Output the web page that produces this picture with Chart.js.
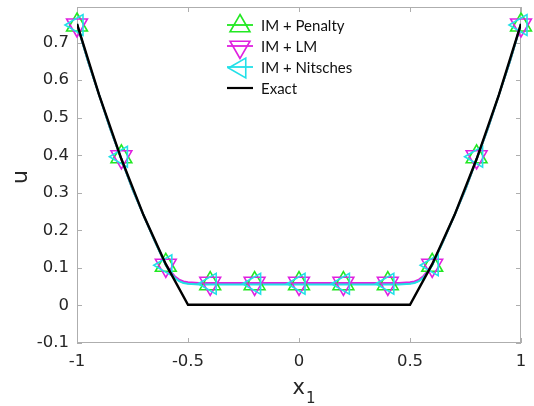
<!DOCTYPE html>
<html><head><meta charset="utf-8">
<script src="https://cdn.jsdelivr.net/npm/chart.js@4.4.1/dist/chart.umd.min.js"></script>
<style>html,body{margin:0;padding:0;background:#fff}</style>
</head><body>
<canvas id="c" width="534" height="406" style="width:534px;height:406px;display:block"></canvas>
<script>
// ---- data ----
const xTicks = [-1, -0.5, 0, 0.5, 1];
const yTicks = [-0.1, 0, 0.1, 0.2, 0.3, 0.4, 0.5, 0.6, 0.7];

const markerX = [-1, -0.8, -0.6, -0.4, -0.2, 0, 0.2, 0.4, 0.6, 0.8, 1];
const penaltyMarkers = [0.747, 0.396, 0.107, 0.058, 0.058, 0.058, 0.058, 0.058, 0.107, 0.396, 0.747];
const lmMarkers      = [0.747, 0.396, 0.107, 0.059, 0.059, 0.059, 0.059, 0.059, 0.107, 0.396, 0.747];
const nitscheMarkers = [0.747, 0.396, 0.107, 0.058, 0.058, 0.058, 0.058, 0.058, 0.107, 0.396, 0.747];

const curveX = [-1, -0.95, -0.9, -0.85, -0.8, -0.75, -0.7, -0.65, -0.6, -0.58, -0.56, -0.54, -0.52, -0.5, -0.45, -0.4, -0.3, -0.2, -0.1, 0,
                0.1, 0.2, 0.3, 0.4, 0.45, 0.5, 0.52, 0.54, 0.56, 0.58, 0.6, 0.65, 0.7, 0.75, 0.8, 0.85, 0.9, 0.95, 1];
const penaltyCurve = [0.75, 0.65, 0.56, 0.47, 0.39, 0.31, 0.24, 0.172, 0.108, 0.089, 0.075, 0.066, 0.061, 0.059, 0.057, 0.057, 0.057, 0.057, 0.057, 0.057,
                      0.057, 0.057, 0.057, 0.057, 0.057, 0.059, 0.061, 0.066, 0.075, 0.089, 0.108, 0.172, 0.24, 0.31, 0.39, 0.47, 0.56, 0.65, 0.75];
const lmCurve      = [0.75, 0.65, 0.56, 0.47, 0.39, 0.31, 0.24, 0.172, 0.110, 0.092, 0.078, 0.069, 0.064, 0.062, 0.060, 0.060, 0.060, 0.060, 0.060, 0.060,
                      0.060, 0.060, 0.060, 0.060, 0.060, 0.062, 0.064, 0.069, 0.078, 0.092, 0.110, 0.172, 0.24, 0.31, 0.39, 0.47, 0.56, 0.65, 0.75];
const nitscheCurve = [0.75, 0.65, 0.56, 0.47, 0.39, 0.31, 0.24, 0.172, 0.107, 0.088, 0.074, 0.065, 0.060, 0.058, 0.056, 0.056, 0.056, 0.056, 0.056, 0.056,
                      0.056, 0.056, 0.056, 0.056, 0.056, 0.058, 0.060, 0.065, 0.074, 0.088, 0.107, 0.172, 0.24, 0.31, 0.39, 0.47, 0.56, 0.65, 0.75];

const exactX = [-1, -0.9, -0.8, -0.7, -0.6, -0.5, 0.5, 0.6, 0.7, 0.8, 0.9, 1];
const exactU = [0.75, 0.56, 0.39, 0.24, 0.11, 0.002, 0.002, 0.11, 0.24, 0.39, 0.56, 0.75];

const seriesNames = ['IM + Penalty', 'IM + LM', 'IM + Nitsches', 'Exact'];
const seriesColors = ['#22e822', '#e020e0', '#22e0e8', '#000000'];
const markerRot = [0, 180, 270];
const xTitle = ['x', '1'];   // x with subscript 1
const yTitle = 'u';

// ---- helpers ----
const pts = (xs, ys) => xs.map((x, i) => ({x: x, y: ys[i]}));

function tri(ctx, x, y, r, rotDeg) {
  const a = rotDeg * Math.PI / 180;
  ctx.beginPath();
  for (let k = 0; k < 3; k++) {
    const t = a + k * 2 * Math.PI / 3;
    const px = x + Math.sin(t) * r, py = y - Math.cos(t) * r;
    if (k === 0) ctx.moveTo(px, py); else ctx.lineTo(px, py);
  }
  ctx.closePath();
  ctx.stroke();
}

const frame = {
  id: 'frame',
  beforeDatasetsDraw(chart) {
    const {ctx, chartArea: a, scales} = chart;
    ctx.save();
    ctx.strokeStyle = '#aeaeae';
    ctx.lineWidth = 1;
    ctx.strokeRect(a.left + 0.5, a.top + 0.5, a.right - a.left - 1, a.bottom - a.top - 1);
    ctx.beginPath();
    const tl = 5;
    xTicks.forEach(v => {
      const px = Math.round(scales.x.getPixelForValue(v)) + 0.5;
      ctx.moveTo(px, a.bottom); ctx.lineTo(px, a.bottom - tl);
      ctx.moveTo(px, a.top); ctx.lineTo(px, a.top + tl);
    });
    yTicks.forEach(v => {
      const py = Math.round(scales.y.getPixelForValue(v)) + 0.5;
      ctx.moveTo(a.left, py); ctx.lineTo(a.left + tl, py);
      ctx.moveTo(a.right, py); ctx.lineTo(a.right - tl, py);
    });
    ctx.stroke();
    ctx.restore();
  },
  afterDraw(chart) {
    const {ctx, chartArea: a} = chart;
    ctx.save();
    ctx.fillStyle = '#262626';
    ctx.textBaseline = 'alphabetic';
    // x title
    const cx = (a.left + a.right) / 2;
    ctx.font = '21px "DejaVu Sans"';
    ctx.textAlign = 'left';
    const wx = ctx.measureText(xTitle[0]).width;
    ctx.font = '15px "DejaVu Sans"';
    const w1 = ctx.measureText(xTitle[1]).width;
    const startX = cx + 5 - (wx + w1 + 1) / 2;
    ctx.font = '21px "DejaVu Sans"';
    ctx.fillText(xTitle[0], startX, 394);
    ctx.font = '15px "DejaVu Sans"';
    ctx.fillText(xTitle[1], startX + wx + 1, 402.5);
    // y title
    ctx.translate(27, (a.top + a.bottom) / 2 + 2);
    ctx.rotate(-Math.PI / 2);
    ctx.font = '22px "DejaVu Sans"';
    ctx.textAlign = 'center';
    ctx.fillText(yTitle, 0, 0);
    ctx.restore();
  }
};

const legendPlugin = {
  id: 'insideLegend',
  afterDatasetsDraw(chart) {
    const {ctx, chartArea: a} = chart;
    ctx.save();
    const x0 = a.left + 150, lineLen = 26, tx = a.left + 184;
    const rows = [25, 46, 67, 88];
    ctx.font = '15px Lato';
    ctx.textBaseline = 'middle';
    ctx.textAlign = 'left';
    seriesNames.forEach((name, i) => {
      const y = rows[i];
      ctx.strokeStyle = seriesColors[i];
      ctx.lineWidth = i === 3 ? 2.2 : 1.8;
      ctx.beginPath(); ctx.moveTo(x0, y); ctx.lineTo(x0 + lineLen, y); ctx.stroke();
      if (i < 3) { ctx.lineWidth = 1.6; tri(ctx, x0 + lineLen / 2, y + 1, 11.5, markerRot[i]); }
      ctx.fillStyle = '#111';
      ctx.fillText(name, tx, y + 1);
    });
    ctx.restore();
  }
};

const lineDs = (label, data, color, w, order) => ({
  label, data, borderColor: color, backgroundColor: color, borderWidth: w,
  pointRadius: 0, showLine: true, tension: 0, order
});
const markDs = (label, data, color, rot, order) => ({
  label, data, borderColor: color, backgroundColor: 'rgba(0,0,0,0)', borderWidth: 1.6,
  pointStyle: 'triangle', pointRotation: rot, pointRadius: 12, pointHoverRadius: 12,
  showLine: false, clip: false, order
});

new Chart(document.getElementById('c'), {
  type: 'scatter',
  data: {
    datasets: [
      lineDs(seriesNames[3], pts(exactX, exactU), seriesColors[3], 2.4, 0),
      markDs(seriesNames[0], pts(markerX, penaltyMarkers), seriesColors[0], markerRot[0], 3),
      markDs(seriesNames[1], pts(markerX, lmMarkers), seriesColors[1], markerRot[1], 2),
      markDs(seriesNames[2], pts(markerX, nitscheMarkers), seriesColors[2], markerRot[2], 1),
      lineDs(seriesNames[0], pts(curveX, penaltyCurve), seriesColors[0], 2, 6),
      lineDs(seriesNames[1], pts(curveX, lmCurve), seriesColors[1], 2, 5),
      lineDs(seriesNames[2], pts(curveX, nitscheCurve), seriesColors[2], 2, 4)
    ]
  },
  options: {
    responsive: false, animation: false, devicePixelRatio: 1,
    layout: {autoPadding: false, padding: {left: 0, right: 13, top: 7, bottom: 0}},
    plugins: {legend: {display: false}, tooltip: {enabled: false}},
    scales: {
      x: {
        type: 'linear', min: -1, max: 1,
        afterBuildTicks: s => { s.ticks = xTicks.map(v => ({value: v})); },
        afterFit: s => { s.height = 63; s.paddingLeft = 0; s.paddingRight = 0; },
        grid: {display: false, drawTicks: false}, border: {display: false},
        ticks: {padding: 9, color: '#262626', font: {family: 'DejaVu Sans', size: 16.5}, maxRotation: 0,
                callback: v => String(v)},
        title: {display: false}
      },
      y: {
        type: 'linear', min: -0.1, max: 0.795,
        afterBuildTicks: s => { s.ticks = yTicks.map(v => ({value: v})); },
        afterFit: s => { s.width = 77; s.paddingTop = 0; s.paddingBottom = 0; },
        grid: {display: false, drawTicks: false}, border: {display: false},
        ticks: {padding: 8, color: '#262626', font: {family: 'DejaVu Sans', size: 16.5},
                callback: v => String(v)},
        title: {display: false}
      }
    }
  },
  plugins: [frame, legendPlugin]
});
</script>
</body></html>
